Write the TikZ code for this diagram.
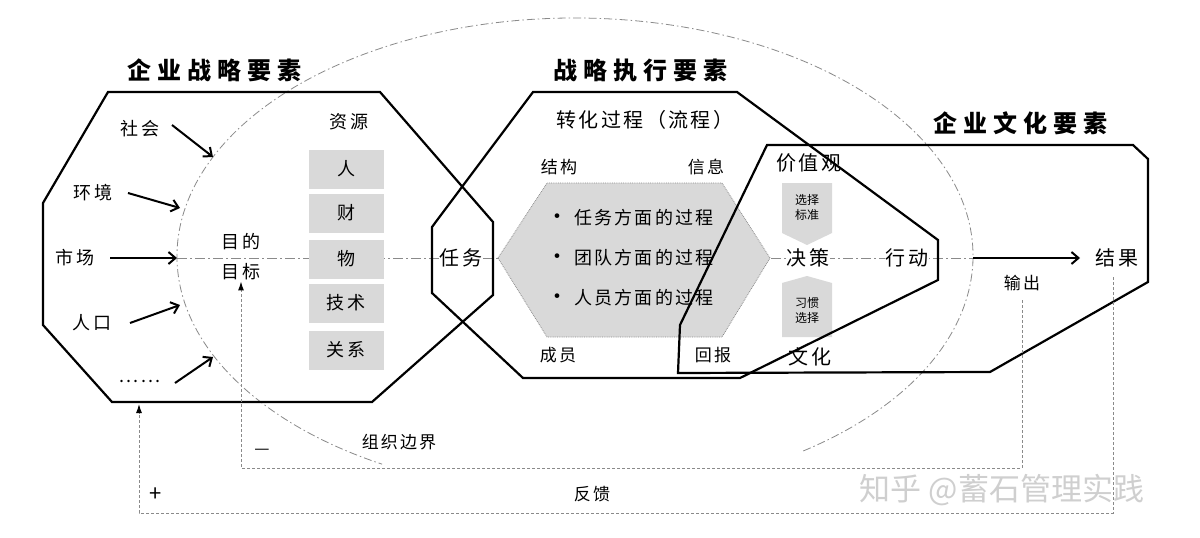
\documentclass[tikz,border=0pt]{standalone}
\usepackage{fontspec}
\usetikzlibrary{arrows.meta}
\newfontfamily\cjk[LetterSpace=12]{Noto Sans CJK SC}
\newfontfamily\cjkwide[LetterSpace=25]{Noto Sans CJK SC}
\newfontfamily\cjkplain{Noto Sans CJK SC}
\definecolor{boxgray}{HTML}{D9D9D9}
\definecolor{lgray}{HTML}{8A8A8A}
\definecolor{wm}{HTML}{CFCFCF}
\begin{document}
\begin{tikzpicture}[x=1pt,y=-1pt,
  every node/.style={font=\cjk\fontsize{18}{20}\selectfont, inner sep=1pt},
  title/.style={font=\cjkwide\bfseries\fontsize{24}{26}\selectfont},
  big/.style={font=\cjk\fontsize{20}{22}\selectfont},
  lbl/.style={font=\cjk\fontsize{17}{19}\selectfont},
  res/.style={fill=boxgray, minimum width=75pt, minimum height=39pt, font=\cjk\fontsize{18}{20}\selectfont},
  small/.style={font=\cjkplain\fontsize{12}{15}\selectfont, align=center},
  oct/.style={line width=2.2pt, line join=miter},
  arr/.style={line width=2pt, -{Straight Barb[length=7pt,width=12pt,line width=2pt]}},
  axisline/.style={lgray, line width=0.8pt, dash pattern=on 10pt off 3pt on 2pt off 3pt},
  orgb/.style={lgray, line width=0.8pt, dash pattern=on 8pt off 3pt on 1.5pt off 3pt},
  fb/.style={lgray, line width=1pt, dash pattern=on 3pt off 2pt},
  fbarr/.style={fb, -{Latex[length=9pt,width=6pt,color=black]}},
  whitebg/.style={fill=white}
]
\useasboundingbox (0,0) rectangle (1200,538);
\fill[white] (0,0) rectangle (1200,538);

% organisation boundary (ellipse, open at the bottom)
\draw[orgb] (575,256) ++(-55:398pt and 238pt)
  arc[start angle=-55, end angle=241, x radius=398pt, y radius=238pt];

% main axis
\coordinate (axL) at (177,258);
\coordinate (axR) at (973,258);
\draw[axisline] (axL) -- (axR);

% grey process hexagon
\path[fill=boxgray, draw=lgray, densely dotted, line width=0.8pt]
  (498,258) -- (547,183) -- (722,183) -- (770,258) -- (722,337) -- (547,337) -- cycle;

% resource boxes
\node[res] (ren) at (346,169) {人};
\node[res] (cai) at (346,213) {财};
\node[res] (wu)  at (346,259) {物};
\node[res] (js)  at (346,303) {技术};
\node[res] (gx)  at (346,350) {关系};

% choice boxes
\fill[boxgray] (782,183) -- (832,183) -- (832,233) -- (807,245) -- (782,233) -- cycle;
\fill[boxgray] (782,283) -- (807,276) -- (832,283) -- (832,337) -- (782,337) -- cycle;
\node[small] (xzbz) at (807,207) {选择\\标准};
\node[small] (xgxz) at (807,310) {习惯\\选择};

% text on the axis
\node[big, whitebg] (renwu) at (461,258) {任务};
\node[big, whitebg] (juece) at (808,258) {决策};
\node[big, whitebg] (xingdong) at (907,258) {行动};

% outlines
\draw[oct] (108,92) -- (380,92) -- (493,222) -- (493,295) -- (372,402) -- (112,402) -- (43,325) -- (43,203) -- cycle;
\draw[oct] (533,92) -- (737,92) -- (938,240) -- (938,280) -- (740,378) -- (523,378) -- (432,293) -- (432,227) -- cycle;
\draw[oct] (767,145) -- (1133,145) -- (1148,159) -- (1148,282) -- (990,372) -- (678,373) -- (680,325) -- cycle;

% titles
\node[title] (t1) at (214,70) {企业战略要素};
\node[title] (t2) at (640,70) {战略执行要素};
\node[title] (t3) at (1020,123) {企业文化要素};

% left: environment inputs
\node (shehui) at (140,129) {社会};
\node (huanjing) at (93,193) {环境};
\node (shichang) at (75,258) {市场};
\node (renkou) at (92,323) {人口};
\node (etc) at (140,381) {......};
\coordinate (e1) at (213,157);
\coordinate (e2) at (180,208);
\coordinate (e4) at (180,305);
\coordinate (e5) at (213,357);
\draw[arr] (172,125) -- (e1);
\draw[arr] (128,193) -- (e2);
\draw[arr] (110,258) -- (axL);
\draw[arr] (130,323) -- (e4);
\draw[arr] (175,383) -- (e5);

\node (mudi) at (241,242) {目的};
\node (mubiao) at (241,272) {目标};
\node (ziyuan) at (349,122) {资源};

% middle
\node[big] (zhuanhua) at (645,120) {转化过程（流程）};
\node[lbl] (jiegou) at (559,167) {结构};
\node[lbl] (xinxi) at (706,167) {信息};
\node[lbl] (chengyuan) at (558,355) {成员};
\node[lbl] (huibao) at (713,355) {回报};
\node[anchor=west] (b1) at (545,218) {{\fontsize{22}{22}\selectfont •} 任务方面的过程};
\node[anchor=west] (b2) at (545,258) {{\fontsize{22}{22}\selectfont •} 团队方面的过程};
\node[anchor=west] (b3) at (545,298) {{\fontsize{22}{22}\selectfont •} 人员方面的过程};

% right
\node[big] (jiazhi) at (809,163) {价值观};
\node[big] (wenhua) at (810,357) {文化};
\node[big] (jieguo) at (1117,258) {结果};
\node[lbl] (shuchu) at (1022,283) {输出};
\coordinate (tipR) at (1080,258);
\draw[arr] (axR) -- (tipR);

% feedback loops
\coordinate (i1) at (1022,468);
\coordinate (i2) at (241,468);
\draw[fbarr] (1022,300) -- (i1) -- (i2) -- (mubiao.south);
\coordinate (o0) at (1113,277);
\coordinate (o1) at (1113,513);
\coordinate (o2) at (139,513);
\coordinate (octbot) at (139,404);
\draw[fbarr] (o0) -- (o1) -- (o2) -- (octbot);

\node[lbl] (zzbj) at (399,442) {组织边界};
\node[lbl] (minus) at (262,452) {—};
\node[font=\cjkplain\fontsize{22}{22}\selectfont] (plus) at (156,495) {+};
\node[lbl] (fankui) at (592,494) {反馈};

% watermark
\node[font=\cjkplain\fontsize{31}{33}\selectfont, text=wm] (wmark) at (1002,490) {知乎 @蓄石管理实践};
\end{tikzpicture}
\end{document}
